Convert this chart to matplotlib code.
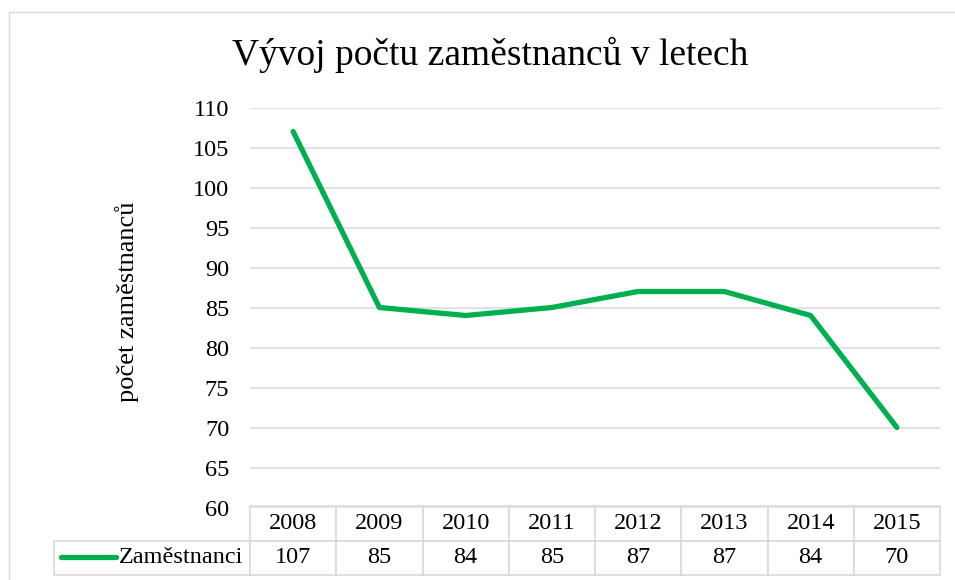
import matplotlib.pyplot as plt
from matplotlib.lines import Line2D
from matplotlib.patches import Rectangle

years = ['2008', '2009', '2010', '2011', '2012', '2013', '2014', '2015']
employees = [107, 85, 84, 85, 87, 87, 84, 70]
series_name = 'Zaměstnanci'
title = 'Vývoj počtu zaměstnanců v letech'
ylabel = 'počet zaměstnanců'
yticks = [60, 65, 70, 75, 80, 85, 90, 95, 100, 105, 110]

GREEN = '#00B050'
GRID = '#D9D9D9'

plt.rcParams['font.family'] = ['Liberation Serif', 'DejaVu Serif']

W, H = 955, 580
fig = plt.figure(figsize=(W / 100, H / 100), dpi=100)

# plot area in pixel coordinates (from top-left)
left, right, top, bottom = 250, 940, 107.5, 507.5
ax = fig.add_axes([left / W, 1 - bottom / H, (right - left) / W, (bottom - top) / H])

# outer chart border
fig.add_artist(Rectangle((9 / W, -0.1), 1.2, 1 - 12 / H + 0.1, transform=fig.transFigure,
                         fill=False, edgecolor=GRID, linewidth=1.0))

x = list(range(len(years)))
ax.plot(x, employees, color=GREEN, linewidth=3.8, solid_capstyle='round',
        solid_joinstyle='round', zorder=3)

ax.set_xlim(-0.5, len(years) - 0.5)
ax.set_ylim(60, 110)
ax.set_yticks(yticks)
ax.set_xticks([])
ax.tick_params(axis='y', length=0, pad=15, labelsize=17.5)
ax.grid(axis='y', color=GRID, linewidth=1.1)
ax.set_axisbelow(True)
for sp in ax.spines.values():
    sp.set_visible(False)

fig.text(127 / W, 1 - 302 / H, ylabel, fontsize=19, rotation=90, ha='center', va='center')
fig.text(490 / W, 1 - 55 / H, title, fontsize=27, ha='center', va='center')

# data table below the plot: first column holds the legend entry
span = right - 54
col_w = (right - left) / len(years) / span
label_w = (left - 54) / span
cells = [[''] + years, [series_name] + [str(v) for v in employees]]
tbl = ax.table(cellText=cells, cellLoc='center', colWidths=[label_w] + [col_w] * len(years),
               bbox=[(54 - left) / (right - left), (bottom - 575) / (bottom - top),
                     span / (right - left), (575 - 506) / (bottom - top)])
tbl.auto_set_font_size(False)
tbl.set_fontsize(17.5)
tbl.set_clip_on(False)
for (r, c), cell in tbl.get_celld().items():
    cell.set_edgecolor(GRID)
    cell.set_linewidth(1.2)
    cell.set_clip_on(False)
    if r == 0 and c == 0:
        cell.visible_edges = ''
    if r == 1 and c == 0:
        cell.get_text().set_ha('right')
        cell._loc = 'right'
        cell.PAD = 0.035

# legend key inside the row label cell
fig.add_artist(Line2D([61 / W, 116 / W], [1 - 557 / H, 1 - 557 / H], transform=fig.transFigure,
                      color=GREEN, linewidth=3.8, solid_capstyle='round'))

fig.savefig('out.png', dpi=100)
